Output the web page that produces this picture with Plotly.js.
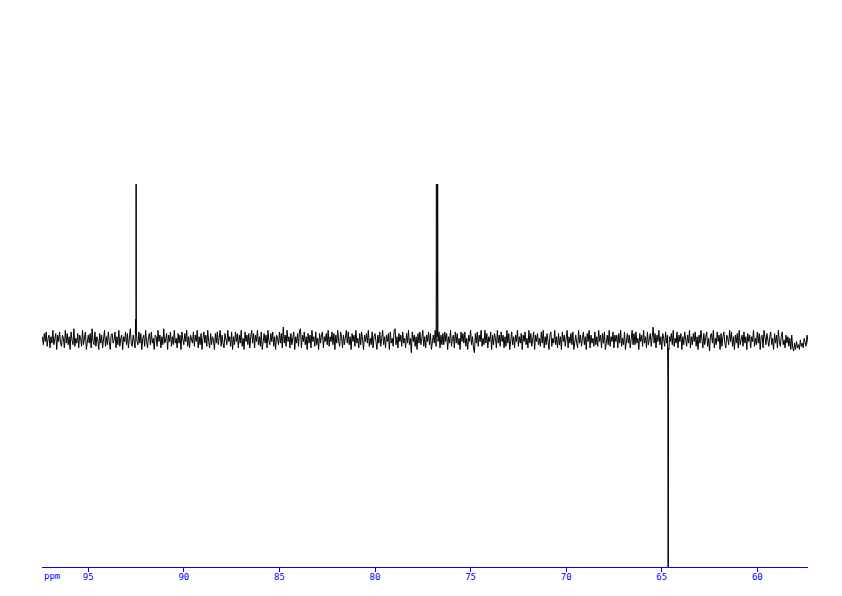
<!DOCTYPE html>
<html>
<head>
<meta charset="utf-8">
<script src="https://cdn.plot.ly/plotly-3.0.1.min.js"></script>
<style>html,body{margin:0;padding:0;background:#fff;}#chart{width:842px;height:596px;}</style>
</head>
<body>
<div id="chart"></div>
<script>
// Spectrum sampling (ppm), first point and spacing
var startPpm = 97.40;
var stepPpm = 0.05;

// Baseline noise intensities (arbitrary units)
var noise = [
 2,-3,4,-1,5,-4,1,3,-5,2,-2,6,-3,0,4,-6,3,-1,5,-2,
 -4,3,1,-5,6,-2,4,-3,2,-6,5,0,-3,7,-4,1,-2,4,-5,3,
 1,-4,6,-3,2,5,-6,0,3,-2,4,-5,7,-1,-3,5,-4,2,0,-6,
 4,-2,3,-5,1,6,-4,2,-3,5,-1,-6,3,4,-2,0,5,-5,2,-3,
 6,-4,1,3,-6,2,-1,5,-3,4,-5,1,7,-2,-4,3,0,-5,4,-1,
 -3,5,-2,4,-6,1,3,-4,6,-1,-5,2,4,-3,5,-2,1,-6,3,2,
 -4,6,-1,3,-5,2,-3,7,-2,0,4,-6,3,-1,5,-4,2,-3,6,-2,
 1,-5,4,-2,3,-6,5,0,-3,4,-1,6,-4,2,-5,3,1,-2,5,-4,
 3,-1,6,-5,2,-3,4,-6,1,5,-2,3,-4,6,-1,-5,4,-3,2,0,
 -6,4,-2,5,-3,1,6,-4,3,-2,-5,4,0,-3,6,-1,2,-4,5,-6,
 2,-3,5,-1,4,-5,3,-2,6,-4,1,-6,5,-1,3,-3,4,-5,2,6,
 -2,4,-5,3,-1,6,-3,2,-4,5,-6,1,4,-2,3,-5,6,-1,-3,4,
 -1,5,-4,2,-6,3,1,-3,5,-2,4,-5,8,-2,3,-4,6,-1,2,-5,
 4,-3,1,5,-6,2,-2,4,-4,6,7,-5,3,-1,5,-3,2,-6,4,-2,
 3,-5,6,-1,2,-4,5,-3,1,-6,4,-2,3,5,-5,2,-1,4,-3,6,
 -4,2,-1,5,-3,4,-6,3,-2,6,-1,-4,5,2,-5,3,-3,1,6,-2,
 5,-3,2,-6,4,-1,3,-4,6,-2,1,-5,4,-3,5,0,-6,3,-1,4,
 -2,6,-4,1,-3,5,-5,2,4,-1,-6,3,-2,5,-4,1,6,-3,2,-5,
 3,-1,4,-6,5,-2,1,-4,6,7,-3,2,-5,4,-1,3,-4,5,-2,1,
 -5,4,-2,6,-3,1,-8,5,-1,3,-4,2,-6,4,-2,5,-3,1,6,-4,
 2,-5,3,-1,5,-3,4,-6,1,3,-2,6,-4,2,-1,5,-5,3,-3,4,
 -3,5,-1,4,-6,2,-2,6,-4,1,3,-5,5,-2,4,-3,1,-6,5,-1,
 4,-2,5,-4,1,-6,3,-1,6,-3,2,-5,-8,4,-2,5,-4,3,-1,6,
 -4,1,-3,6,-2,4,-5,2,-1,5,-6,3,-3,4,1,-5,6,-2,3,-4,
 5,-1,3,-5,2,-4,6,-2,4,-6,1,5,-3,2,-5,3,-1,6,-4,2,
 -2,4,-6,3,-1,5,-3,1,-5,6,-2,4,-4,2,5,-6,3,-1,4,-3,
 1,-4,5,-2,6,-5,2,-3,4,-1,-6,3,5,-4,1,-2,6,-3,2,-5,
 4,-3,2,-6,5,-1,3,-4,1,6,-5,2,-2,4,-3,5,-6,1,3,-2,
 -5,6,-2,3,-4,1,5,-3,2,-6,4,-1,6,-5,3,-2,1,-4,5,-3,
 2,-4,6,-1,3,-5,4,-2,5,-6,1,3,-3,6,-4,2,-1,5,-5,3,
 -1,3,-5,4,-2,6,-4,1,-3,5,-6,2,4,-2,3,-5,1,6,-3,4,
 -3,5,-2,1,-6,4,-1,3,-4,6,-2,2,-5,5,-3,1,4,-4,2,8,
 -2,4,-5,3,-1,6,-3,2,-6,4,1,-4,5,-2,3,-5,2,-1,4,-3,
 6,-4,1,-2,5,-5,3,-1,4,-6,2,-3,5,1,-4,3,-2,6,-5,2,
 -3,4,-1,5,-4,2,-6,3,-2,6,-1,-5,4,-3,2,5,-4,1,-7,3,
 4,-2,6,-5,1,-3,5,-1,3,-6,4,-4,2,5,-2,-5,3,1,-3,6,
 -1,5,-4,2,-6,3,-2,4,-5,6,-3,1,3,-4,5,-2,2,-6,4,-1,
 3,-5,2,-1,6,-4,1,-3,5,-2,4,-6,2,3,-5,6,-1,-3,4,-2,
 -4,2,5,-3,1,-6,4,-2,3,-5,6,-1,-4,2,5,-3,0,-5,3,-2,
 2,-4,1,-6,3,-5,-7,-2,-6,-1,-5,-3,-6,0,-4,-2,-5,1,-3,-4,
 3,-2,-5,4,-1,-4,5,-3,2,-6,4,-1,3,-5,2,-2,6,-4,1,-3
];

// Resonances (ppm, intensity); tall ones run off scale
var peakPpm = [92.53, 92.51, 92.50, 92.49, 76.78, 76.73, 76.71, 64.70, 64.68, 64.66, 64.64, 64.62];
var peakInt = [8, 13, 300, 5, 300, 300, 4, -10, -25, -400, -25, -6];

// Axis ticks
var tickVals = [95, 90, 85, 80, 75, 70, 65, 60];
var tickText = ["95", "90", "85", "80", "75", "70", "65", "60"];

var pts = [];
for (var i = 0; i < noise.length; i++) {
  pts.push([startPpm - i * stepPpm, noise[i]]);
}
for (var j = 0; j < peakPpm.length; j++) {
  pts.push([peakPpm[j], peakInt[j]]);
}
pts.sort(function (a, b) { return b[0] - a[0]; });
var xs = pts.map(function (p) { return p[0]; });
var ys = pts.map(function (p) { return p[1]; });

var trace = {
  x: xs, y: ys, type: 'scatter', mode: 'lines',
  line: {color: '#000000', width: 1},
  hoverinfo: 'skip'
};

var blue = '#0000ff';
var layout = {
  width: 842, height: 596,
  margin: {l: 42, r: 34, t: 184, b: 29, pad: 0},
  paper_bgcolor: '#ffffff', plot_bgcolor: '#ffffff',
  showlegend: false,
  xaxis: {
    range: [97.42, 57.35],
    tickmode: 'array', tickvals: tickVals, ticktext: tickText,
    ticks: 'outside', ticklen: 4, tickwidth: 1, tickcolor: blue,
    showline: true, linecolor: blue, linewidth: 1,
    showgrid: false, zeroline: false,
    ticklabelstandoff: -3,
    tickfont: {family: 'DejaVu Sans Mono, monospace', size: 9, color: blue}
  },
  yaxis: {
    range: [-142, 97.5],
    visible: false, showgrid: false, zeroline: false
  },
  annotations: [{
    text: 'ppm', xref: 'paper', yref: 'paper', x: 0, y: 0,
    xanchor: 'left', yanchor: 'top', yshift: -2, showarrow: false,
    font: {family: 'DejaVu Sans Mono, monospace', size: 9, color: blue}
  }]
};

Plotly.newPlot('chart', [trace], layout, {staticPlot: true, displayModeBar: false});
</script>
</body>
</html>
